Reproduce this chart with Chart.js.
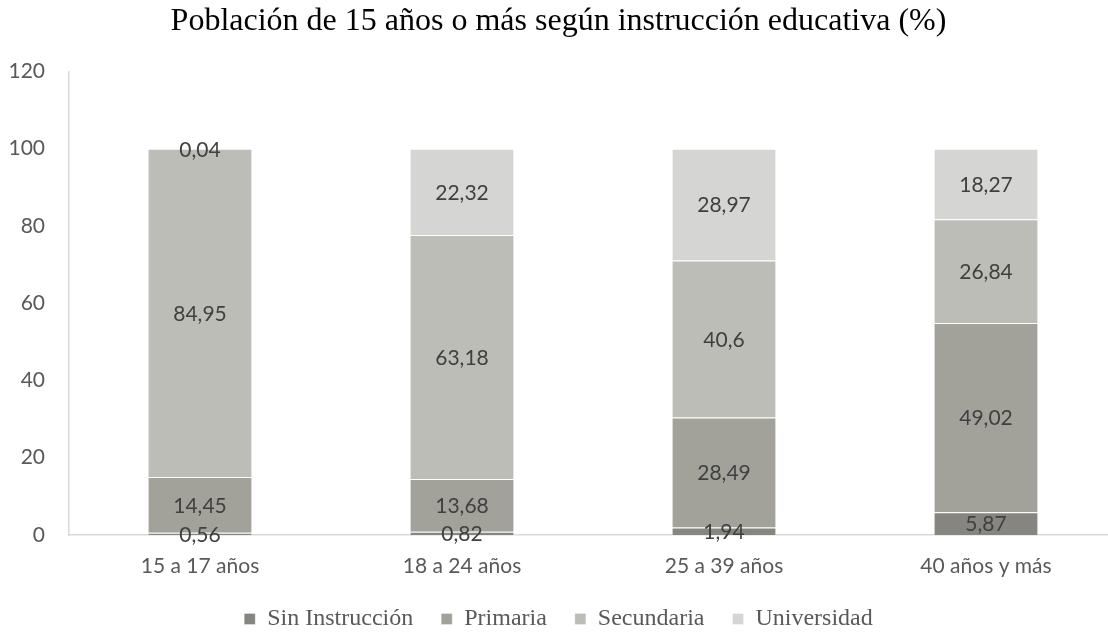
<!DOCTYPE html>
<html>
<head>
<meta charset="utf-8">
<script src="https://cdn.jsdelivr.net/npm/chart.js@4.4.1/dist/chart.umd.min.js"></script>
<style>
  html, body { margin: 0; padding: 0; background: #fff; overflow: hidden; }
  #wrap { width: 1120px; height: 632px; }
</style>
</head>
<body>
<div id="wrap"><canvas id="chart"></canvas></div>
<script>
// Data
const categories = ['15 a 17 años', '18 a 24 años', '25 a 39 años', '40 años y más'];
const sinInstruccion = [0.56, 0.82, 1.94, 5.87];
const primaria = [14.45, 13.68, 28.49, 49.02];
const secundaria = [84.95, 63.18, 40.6, 26.84];
const universidad = [0.04, 22.32, 28.97, 18.27];
const yTicks = [0, 20, 40, 60, 80, 100, 120];

const labelFont = 'Lato, "Open Sans", sans-serif';
const serifFont = '"Liberation Serif", "Times New Roman", serif';

// draws the value in the middle of each segment
const segmentLabels = {
    id: 'segmentLabels',
    afterDatasetsDraw(chart) {
        const ctx = chart.ctx;
        ctx.save();
        ctx.font = '21px ' + labelFont;
        ctx.fillStyle = '#404040';
        ctx.textAlign = 'center';
        ctx.textBaseline = 'middle';
        chart.data.datasets.forEach((ds, i) => {
            chart.getDatasetMeta(i).data.forEach((bar, j) => {
                const { x, y, base } = bar.getProps(['x', 'y', 'base'], true);
                const txt = String(ds.data[j]).replace('.', ',');
                ctx.fillText(txt, x, (y + base) / 2 + 1);
            });
        });
        ctx.restore();
    }
};

function makeSet(label, data, color) {
    return {
        label: label,
        data: data,
        backgroundColor: color,
        borderColor: 'rgba(255,255,255,0.3)',
        borderWidth: 1,
        barPercentage: 0.4,
        categoryPercentage: 1
    };
}

new Chart(document.getElementById('chart'), {
    type: 'bar',
    data: {
        labels: categories,
        datasets: [
            makeSet('Sin Instrucción', sinInstruccion, '#86857f'),
            makeSet('Primaria', primaria, '#a2a29b'),
            makeSet('Secundaria', secundaria, '#bdbdb8'),
            makeSet('Universidad', universidad, '#d5d5d3')
        ]
    },
    plugins: [segmentLabels],
    options: {
        responsive: true,
        maintainAspectRatio: false,
        animation: false,
        layout: { padding: { left: 0, right: 3, top: 0, bottom: -9 } },
        plugins: {
            title: {
                display: true,
                text: 'Población de 15 años o más según instrucción educativa (%)',
                color: '#000',
                font: { family: serifFont, size: 32, weight: 'normal', lineHeight: 1.2 },
                padding: { top: 2, bottom: 31 }
            },
            legend: {
                position: 'bottom',
                labels: {
                    color: '#595959',
                    font: { family: serifFont, size: 24 },
                    boxWidth: 11,
                    boxHeight: 11,
                    padding: 28
                }
            },
            tooltip: { enabled: false }
        },
        scales: {
            x: {
                stacked: true,
                grid: { display: false, drawTicks: false, tickLength: 0 },
                border: { display: true, color: '#d9d9d9', width: 1.5 },
                ticks: { color: '#595959', font: { family: labelFont, size: 21 }, padding: 19 },
                afterFit: (scale) => { scale.height = 44; }
            },
            y: {
                stacked: true,
                min: 0,
                max: 120,
                afterBuildTicks: (scale) => { scale.ticks = yTicks.map(v => ({ value: v })); },
                afterFit: (scale) => { scale.width = 69; },
                grid: { display: false, drawTicks: false, tickLength: 0 },
                border: { display: true, color: '#d9d9d9', width: 1.5 },
                ticks: { color: '#595959', font: { family: labelFont, size: 21 }, padding: 24 }
            }
        }
    }
});
</script>
</body>
</html>
